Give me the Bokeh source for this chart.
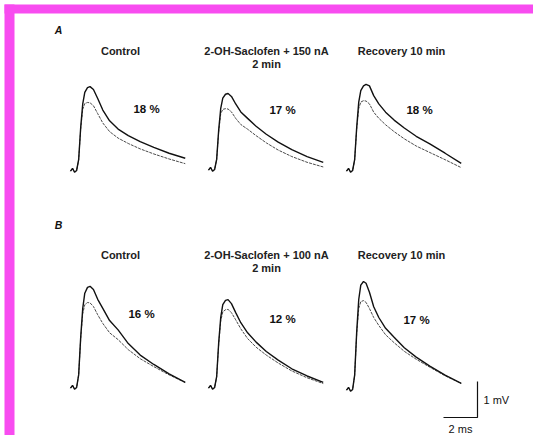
from bokeh.plotting import figure
from bokeh.models import Range1d, Label
from bokeh.embed import file_html
from bokeh.resources import INLINE

# ---------------- data (ms, mV) ----------------
time_ms = [0, 0.12, 0.24, 0.36, 0.48, 0.6, 0.72, 0.84, 1.0, 1.15,
           1.35, 1.6, 1.9, 2.3, 2.8, 3.4, 4.1, 4.9, 5.8, 6.75]

a_control_solid = [-0.02, 0.06, -0.05, 0.0, 0.3, 1.2, 1.85, 2.17, 2.3, 2.33,
                   2.25, 2.0, 1.68, 1.38, 1.15, 0.97, 0.8, 0.64, 0.48, 0.34]
a_control_dot = [-0.02, 0.06, -0.05, 0.0, 0.3, 1.15, 1.7, 1.86, 1.89, 1.88,
                 1.8, 1.58, 1.32, 1.08, 0.9, 0.75, 0.6, 0.46, 0.32, 0.19]
a_drug_solid = [-0.02, 0.06, -0.05, 0.0, 0.28, 1.1, 1.7, 1.98, 2.09, 2.11,
                2.03, 1.82, 1.6, 1.42, 1.2, 0.98, 0.76, 0.55, 0.36, 0.2]
a_drug_dot = [-0.02, 0.06, -0.05, 0.0, 0.28, 1.05, 1.55, 1.67, 1.69, 1.68,
              1.6, 1.42, 1.25, 1.12, 0.94, 0.74, 0.54, 0.36, 0.2, 0.07]
a_recov_solid = [-0.02, 0.06, -0.05, 0.0, 0.3, 1.2, 1.9, 2.22, 2.35, 2.39,
                 2.35, 2.08, 1.85, 1.62, 1.4, 1.18, 0.95, 0.74, 0.48, 0.2]
a_recov_dot = [-0.02, 0.06, -0.05, 0.0, 0.3, 1.15, 1.72, 1.9, 1.94, 1.93,
               1.85, 1.62, 1.45, 1.27, 1.08, 0.88, 0.68, 0.5, 0.3, 0.08]

b_control_solid = [-0.02, 0.06, -0.05, 0.0, 0.35, 1.4, 2.2, 2.62, 2.78, 2.81,
                   2.72, 2.45, 2.2, 1.86, 1.6, 1.22, 0.9, 0.64, 0.38, 0.14]
b_control_dot = [-0.02, 0.06, -0.05, 0.0, 0.35, 1.35, 2.05, 2.3, 2.36, 2.35,
                 2.25, 2.02, 1.78, 1.52, 1.33, 1.05, 0.8, 0.58, 0.35, 0.14]
b_drug_solid = [-0.02, 0.06, -0.05, 0.0, 0.3, 1.25, 1.95, 2.3, 2.42, 2.44,
                2.33, 2.08, 1.8, 1.52, 1.26, 1.0, 0.76, 0.52, 0.32, 0.14]
b_drug_dot = [-0.02, 0.06, -0.05, 0.0, 0.3, 1.2, 1.85, 2.1, 2.16, 2.17,
              2.08, 1.88, 1.63, 1.36, 1.12, 0.9, 0.68, 0.46, 0.27, 0.11]
b_recov_solid = [-0.02, 0.06, -0.05, 0.0, 0.4, 1.6, 2.5, 2.9, 3.0, 2.95,
                 2.7, 2.3, 2.0, 1.7, 1.45, 1.16, 0.9, 0.65, 0.4, 0.17]
b_recov_dot = [-0.02, 0.06, -0.05, 0.0, 0.4, 1.55, 2.25, 2.44, 2.47, 2.42,
               2.25, 2.0, 1.78, 1.52, 1.3, 1.06, 0.84, 0.62, 0.38, 0.17]

titles_a = ["Control", "2-OH-Saclofen + 150 nA", "Recovery 10 min"]
titles_b = ["Control", "2-OH-Saclofen + 100 nA", "Recovery 10 min"]
subtitle = "2 min"
percent_a = ["18 %", "17 %", "18 %"]
percent_b = ["16 %", "12 %", "17 %"]
scale_ms = 2
scale_mv = 1

# ---------------- layout ----------------
W, H = 533, 435
PX_PER_MS = 17.0
PX_PER_MV = 36.0


def X(px):
    return px / PX_PER_MS


def Y(py):
    return -py / PX_PER_MV


p = figure(width=W, height=H, output_backend="svg", toolbar_location=None,
           x_range=Range1d(0, X(W)), y_range=Range1d(Y(H), 0),
           min_border=0, min_border_left=0, min_border_right=0,
           min_border_top=0, min_border_bottom=0)
p.axis.visible = False
p.grid.visible = False
p.outline_line_color = None
p.background_fill_color = "white"
p.border_fill_color = "white"

MAGENTA = "#F84CF0"
# border strips
p.quad(left=[X(4), X(4)], right=[X(14), X(W)],
       top=[Y(4), Y(4)], bottom=[Y(H), Y(13)],
       fill_color=MAGENTA, line_color=None)

rows = [
    dict(origins=[(70, 170), (208, 169), (346, 170)],
         traces=[(a_control_solid, a_control_dot), (a_drug_solid, a_drug_dot),
                 (a_recov_solid, a_recov_dot)],
         titles=titles_a, title_y=50, sub_y=63, percents=percent_a,
         pct_pos=[(146, 108), (282, 109), (419, 109)],
         letter="A", letter_y=29),
    dict(origins=[(70, 387), (208, 387), (346, 389)],
         traces=[(b_control_solid, b_control_dot), (b_drug_solid, b_drug_dot),
                 (b_recov_solid, b_recov_dot)],
         titles=titles_b, title_y=254, sub_y=267, percents=percent_b,
         pct_pos=[(141, 313), (282, 318), (416, 319)],
         letter="B", letter_y=224),
]
title_x = [120, 266, 401]
FONT = "Liberation Sans"
INK = "#111111"

for row in rows:
    for i, ((x0, y0), (sol, dot)) in enumerate(zip(row["origins"], row["traces"])):
        xs = [X(x0) + t for t in time_ms]
        p.line(xs, [Y(y0) + v for v in dot], line_color="#4a4a4a",
               line_width=1.0, line_dash="3 1")
        p.line(xs, [Y(y0) + v for v in sol], line_color="#111111",
               line_width=1.4)
        p.add_layout(Label(x=X(title_x[i]), y=Y(row["title_y"]), text=row["titles"][i],
                           text_align="center", text_baseline="middle",
                           text_font=FONT, text_font_size="11px", text_font_style="bold",
                           text_color="#222222"))
        if i == 1:
            p.add_layout(Label(x=X(title_x[i]), y=Y(row["sub_y"]), text=subtitle,
                               text_align="center", text_baseline="middle",
                               text_font=FONT, text_font_size="11px", text_font_style="bold",
                               text_color="#222222"))
        px, py = row["pct_pos"][i]
        p.add_layout(Label(x=X(px), y=Y(py), text=row["percents"][i],
                           text_align="center", text_baseline="middle",
                           text_font=FONT, text_font_size="11.5px", text_font_style="bold",
                           text_color=INK))
    p.add_layout(Label(x=X(58), y=Y(row["letter_y"]), text=row["letter"],
                       text_align="center", text_baseline="middle",
                       text_font=FONT, text_font_size="10.5px", text_font_style="bold italic",
                       text_color=INK))

# scale bar
cx, cy = X(477), Y(417)
p.line([cx - scale_ms, cx, cx], [cy, cy, cy + scale_mv], line_color="#111111", line_width=1.2)
p.add_layout(Label(x=cx + X(6), y=cy + scale_mv / 2, text=f"{scale_mv} mV",
                   text_align="left", text_baseline="middle",
                   text_font=FONT, text_font_size="11px", text_color=INK))
p.add_layout(Label(x=cx - scale_ms / 2, y=cy - 11 / PX_PER_MV, text=f"{scale_ms} ms",
                   text_align="center", text_baseline="middle",
                   text_font=FONT, text_font_size="11px", text_color=INK))

open("out.html", "w").write(file_html(p, INLINE))
